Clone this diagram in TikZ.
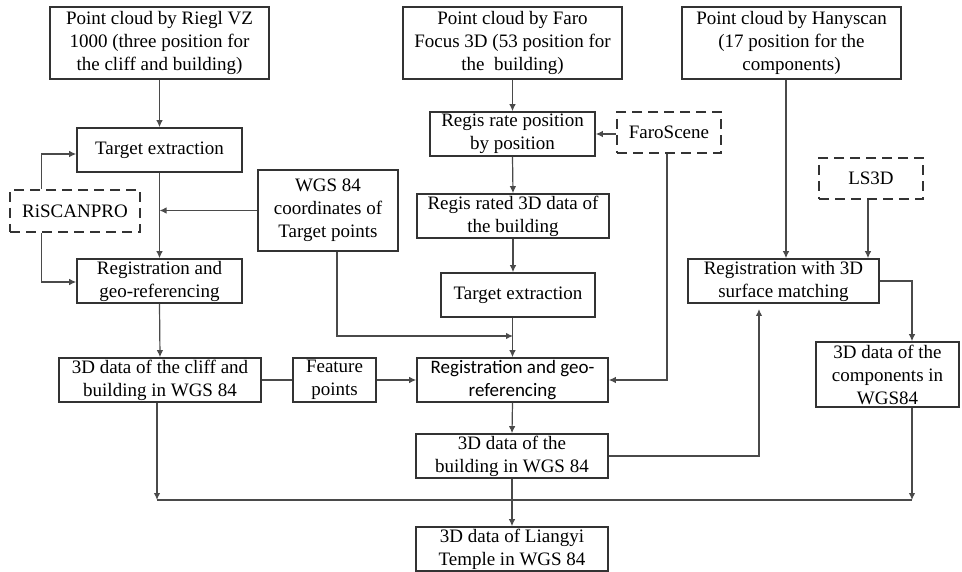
\documentclass[tikz,border=0pt]{standalone}
\usepackage{fontspec}
\setmainfont{Liberation Serif}
\newfontfamily\calibrilike{Carlito}
\usetikzlibrary{arrows.meta}
\definecolor{boxline}{HTML}{333333}
\definecolor{linkline}{HTML}{4A4A4A}
\begin{document}
\begin{tikzpicture}[x=1pt,y=-1pt,
  every node/.style={font=\fontsize{19}{23}\selectfont},
  box/.style={draw=boxline,line width=1.6pt,fill=white,align=center,inner sep=0pt},
  softbox/.style={box,dashed,dash pattern=on 10pt off 6pt},
  link/.style={draw=linkline,line width=1.2pt},
  arr/.style={link,-{Latex[length=7pt,width=6.5pt]}}]
\useasboundingbox (0,0) rectangle (962,572);

% sources
\node[box,minimum width=219pt,minimum height=72pt] (riegl) at (159.5,43)
  {Point cloud by Riegl VZ\\1000 (three position for\\the cliff and building)};
\node[box,minimum width=219pt,minimum height=72pt] (faro) at (512.5,43)
  {Point cloud by Faro\\Focus 3D (53 position for\\the\ \ building)};
\node[box,minimum width=219pt,minimum height=72pt] (hany) at (791.5,43)
  {Point cloud by Hanyscan\\(17 position for the\\components)};

% left branch
\node[box,minimum width=165pt,minimum height=44pt] (tel) at (159.5,150) {Target extraction};
\node[softbox,minimum width=130pt,minimum height=42pt] (risc) at (75,211) {RiSCANPRO};
\node[box,minimum width=140pt,minimum height=81pt] (wgs) at (328,210.5)
  {WGS 84\\coordinates of\\Target points};
\node[box,minimum width=165pt,minimum height=44pt] (regl) at (159.5,281)
  {Registration and\\geo-referencing};
\node[box,minimum width=202pt,minimum height=44pt] (cliff) at (160,380)
  {3D data of the cliff and\\building in WGS 84};
\node[box,minimum width=83pt,minimum height=44pt] (feat) at (334.5,380) {Feature\\points};

% middle branch
\node[box,minimum width=165pt,minimum height=44pt] (rrp) at (512.5,134)
  {Regis rate position\\by position};
\node[softbox,minimum width=104pt,minimum height=41pt] (fscene) at (669,132.5) {FaroScene};
\node[box,minimum width=192pt,minimum height=44pt] (rr3d) at (513,216)
  {Regis rated 3D data of\\the building};
\node[box,minimum width=154pt,minimum height=44pt] (tem) at (518,295) {Target extraction};
\node[box,minimum width=191pt,minimum height=44pt] (regm) at (512.5,380)
  {\calibrilike Registration and geo-\\\calibrilike referencing};
\node[box,minimum width=192pt,minimum height=44pt] (bldg) at (512,456)
  {3D data of the\\building in WGS 84};
\node[box,minimum width=192pt,minimum height=44pt] (liang) at (512,549)
  {3D data of Liangyi\\Temple in WGS 84};

% right branch
\node[softbox,minimum width=104pt,minimum height=41pt] (ls3d) at (871,178.5) {LS3D};
\node[box,minimum width=191pt,minimum height=44pt] (reg3d) at (783.5,281)
  {Registration with 3D\\surface matching};
\node[box,minimum width=143pt,minimum height=65pt] (comp) at (887.5,374.5)
  {3D data of the\\components in\\WGS84};

% junction points
\coordinate (wgsj) at (513,336);
\coordinate (r3b) at (759,303);
\coordinate (bl) at (157,500);
\coordinate (br) at (912,500);

% left branch links
\draw[arr] (riegl.south) -- (tel.north);
\draw[arr] ([xshift=32pt]risc.north west) |- ([yshift=-4pt]tel.west);
\draw[arr] ([xshift=32pt]risc.south west) |- ([yshift=-1pt]regl.west);
\draw[arr] (tel.south) -- (regl.north);
\draw[arr] (wgs.west) -- (wgs.west -| tel.south);
\draw[arr] (regl.south) -- (cliff.north);
\draw[link] (cliff.east) -- (feat.west);
\draw[arr] (feat.east) -- (regm.west);

% middle branch links
\draw[arr] (faro.south) -- (rrp.north);
\draw[arr] (fscene.west |- rrp.east) -- (rrp.east);
\draw[arr] (rrp.south) -- (rr3d.north);
\draw[arr] (rr3d.south) -- (rr3d.south |- tem.north);
\draw[arr] (tem.south -| regm.north) -- (regm.north);
\draw[arr] ([xshift=9pt]wgs.south) |- (wgsj);
\draw[arr] ([xshift=-2pt]fscene.south) |- (regm.east);
\draw[arr] (regm.south) -- (bldg.north);
\draw[arr] (bldg.south) -- (liang.north);
\draw[arr,shorten >=6pt] (bldg.east) -| (r3b);

% right branch links
\draw[arr] ([xshift=-5.5pt]hany.south) -- ([xshift=-5.5pt]hany.south |- reg3d.north);
\draw[arr] ([xshift=-3pt]ls3d.south) -- ([xshift=-3pt]ls3d.south |- reg3d.north);
\draw[arr] (reg3d.east) -| ([xshift=24.5pt]comp.north);

% collecting line
\draw[arr] ([xshift=-3pt]cliff.south) -- (bl);
\draw[arr] ([xshift=24.5pt]comp.south) -- (br);
\draw[link] (bl) -- (br);
\end{tikzpicture}
\end{document}
